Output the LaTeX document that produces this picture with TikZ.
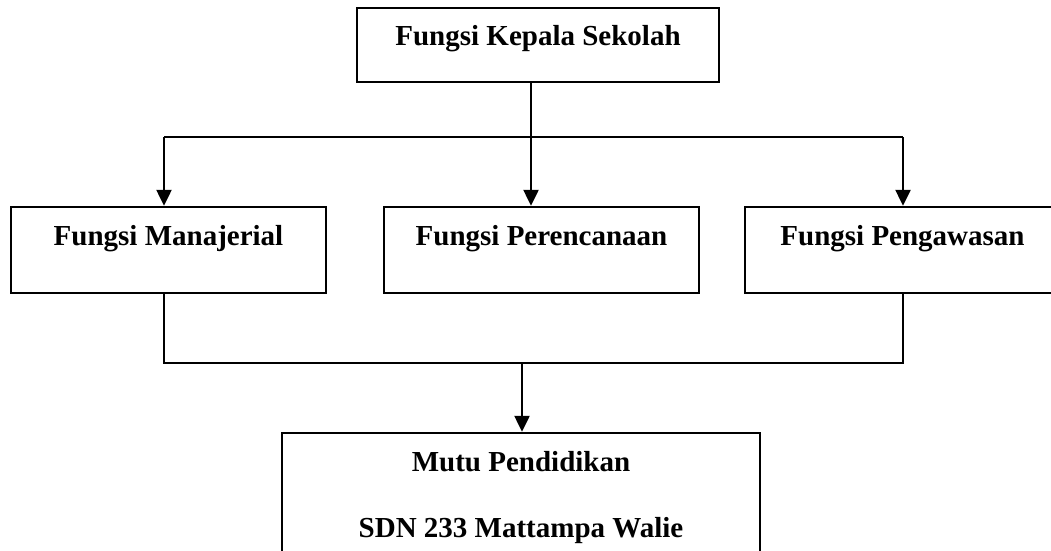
\documentclass[tikz,border=0pt]{standalone}
\usepackage{fontspec}
\setmainfont{Liberation Serif}
\usetikzlibrary{arrows.meta}
\newcommand{\rapat}{\spaceskip=\fontdimen2\font\relax}

\begin{document}
\begin{tikzpicture}[x=1pt,y=-1pt,>={Triangle[length=16pt,width=15pt]},line width=2.5pt,
    kotak/.style={rectangle,draw,inner sep=0pt,align=center,font=\bfseries\fontsize{29}{66}\selectfont}]
    \clip (0,0) rectangle (1051,550);
    \node[kotak,minimum width=362pt,text height=37pt,text depth=37pt] (k) at (538,45) {Fungsi Kepala Sekolah};
    \begin{scope}[every node/.append style={minimum width=315pt,text height=38pt,text depth=48pt}]
        \node[kotak] (f_1) at (168.5,250) {Fungsi Manajerial};
        \node[kotak] (f_2) at (541.5,250) {Fungsi Perencanaan};
        \node[kotak] (f_3) at (902.5,250) {Fungsi Pengawasan};
    \end{scope}
    \node[kotak,text width=478pt,text height=38pt,text depth=99pt] (m) at (521,501.5) {\rapat Mutu Pendidikan\\SDN 233 Mattampa Walie};
    \coordinate (atas) at (531,137);
    \coordinate (kiri) at (164,137);
    \coordinate (kanan) at (903,137);
    \coordinate (bawah) at (522,363);
    \draw (k.south -| atas) -- (atas);
    \draw (kiri) -- (kanan);
    \draw[->] (kiri) -- (kiri |- f_1.north);
    \draw[->] (atas) -- (atas |- f_2.north);
    \draw[->] (kanan) -- (kanan |- f_3.north);
    \draw (kiri |- f_1.south) -- (kiri |- bawah) -- (kanan |- bawah) -- (kanan |- f_3.south);
    \draw[->] (bawah) -- (bawah |- m.north);
\end{tikzpicture}
\end{document}
